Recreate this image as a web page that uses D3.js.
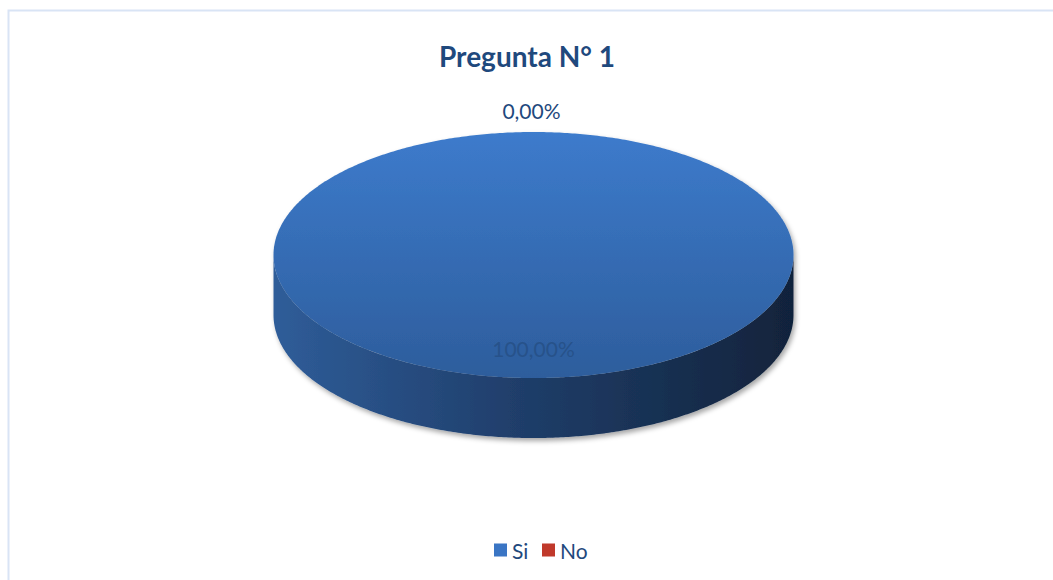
<!DOCTYPE html>
<html>
<head>
<meta charset="utf-8">
<script src="https://cdn.jsdelivr.net/npm/d3@7"></script>
<style>
	body { margin: 0; background: white; }
</style>
</head>
<body>
<div id="viz"></div>
<script>

// Chart data
var categories = ["Si", "No"];
var values = [100, 0];
var colors = ["#3a75c4", "#c0392b"];
var title = "Pregunta N° 1";

var width = 1053,
	height = 580;

// Pie geometry (3D ellipse)
var cx = 533.5,
	cy = 255,
	rx = 260,
	ry = 123,
	depth = 60;

var locale = d3.formatLocale({decimal: ",", thousands: ".", grouping: [3], currency: ["", "€"]}),
	fmt = locale.format(".2f"),
	total = d3.sum(values),
	pctText = v => fmt(v / total * 100) + "%";

var pie = d3.pie().sort(null).value(d => d.value);
var slices = pie(categories.map((c, i) => ({name: c, value: values[i], color: colors[i]})));

var px = a => cx + rx * Math.sin(a),
	py = a => cy - ry * Math.cos(a);

var svg = d3.select("#viz")
	.append("svg")
	.attr("width", width)
	.attr("height", height)
	.style("font-family", "Lato, 'Open Sans', sans-serif");

var defs = svg.append("defs");

var topGrad = defs.append("linearGradient")
	.attr("id", "topGrad")
	.attr("x1", 0).attr("y1", 0).attr("x2", 0).attr("y2", 1);
topGrad.append("stop").attr("offset", "0%").attr("stop-color", "#3d7bcc");
topGrad.append("stop").attr("offset", "100%").attr("stop-color", "#2d5d9c");

var sideGrad = defs.append("linearGradient")
	.attr("id", "sideGrad")
	.attr("gradientUnits", "userSpaceOnUse")
	.attr("x1", cx - rx).attr("y1", 0).attr("x2", cx + rx).attr("y2", 0);
sideGrad.append("stop").attr("offset", "0%").attr("stop-color", "#2f5d99");
sideGrad.append("stop").attr("offset", "45%").attr("stop-color", "#203f6c");
sideGrad.append("stop").attr("offset", "100%").attr("stop-color", "#11233b");

var shadow = defs.append("filter")
	.attr("id", "shadow")
	.attr("x", "-10%").attr("y", "-10%").attr("width", "120%").attr("height", "130%");
shadow.append("feDropShadow")
	.attr("dx", 2).attr("dy", 3).attr("stdDeviation", 2.5)
	.attr("flood-color", "#000").attr("flood-opacity", 0.35);

// Chart border
svg.append("rect")
	.attr("x", 8.5)
	.attr("y", 10.5)
	.attr("width", width)
	.attr("height", height)
	.style("fill", "none")
	.style("stroke", "#d9e4f5")
	.style("stroke-width", 2);

// Title
svg.append("text")
	.attr("x", 527)
	.attr("y", 67)
	.attr("text-anchor", "middle")
	.style("font-size", "28px")
	.style("font-weight", "bold")
	.style("fill", "#1f497d")
	.text(title);

var arcPoints = (a0, a1, dy) => {
	var n = Math.max(2, Math.ceil(Math.abs(a1 - a0) / 0.01)),
		pts = [];
	for (var k = 0; k <= n; k++) {
		var a = a0 + (a1 - a0) * k / n;
		pts.push([px(a), py(a) + dy]);
	}
	return pts;
};

var pieG = svg.append("g").attr("filter", "url(#shadow)");

// Side walls (front-facing part only)
slices.filter(d => d.value > 0).forEach(d => {
	var a0 = Math.max(d.startAngle, Math.PI / 2),
		a1 = Math.min(d.endAngle, Math.PI * 1.5);
	if (a1 <= a0) return;
	var pts = arcPoints(a0, a1, 0).concat(arcPoints(a1, a0, depth));
	pieG.append("path")
		.attr("d", d3.line()(pts) + "Z")
		.style("fill", d.data.name == "Si" ? "url(#sideGrad)" : d3.color(d.data.color).darker(1));
});

// Top faces
slices.filter(d => d.value > 0).forEach(d => {
	var full = d.endAngle - d.startAngle >= Math.PI * 2 - 1e-6;
	var pts = arcPoints(d.startAngle, d.endAngle, 0);
	if (!full) pts = [[cx, cy]].concat(pts);
	pieG.append("path")
		.attr("d", d3.line()(pts) + "Z")
		.style("fill", d.data.name == "Si" ? "url(#topGrad)" : d.data.color);
});

// Data labels
slices.forEach(d => {
	var mid = (d.startAngle + d.endAngle) / 2,
		inside = d.value > 0;
	var lx = inside ? cx + (px(mid) - cx) * 0.78 : px(mid) - 2,
		ly = inside ? cy + (py(mid) - cy) * 0.79 : py(mid) - 18;
	svg.append("text")
		.attr("x", lx)
		.attr("y", ly)
		.attr("text-anchor", "middle")
		.attr("dominant-baseline", "middle")
		.style("font-size", "21px")
		.style("fill", inside ? "#27528a" : "#1f497d")
		.text(pctText(d.value));
});

// Legend
var legendX = [494, 542];
var legend = svg.selectAll(".legend")
	.data(slices)
	.enter()
	.append("g")
	.attr("class", "legend")
	.attr("transform", (d, i) => `translate(${legendX[i]}, 550)`);

legend.append("rect")
	.attr("x", 0)
	.attr("y", -6.5)
	.attr("width", 13)
	.attr("height", 13)
	.style("fill", d => d.data.color);

legend.append("text")
	.attr("x", 18)
	.attr("y", 0)
	.attr("dominant-baseline", "central")
	.style("font-size", "21px")
	.style("fill", "#1f497d")
	.text(d => d.data.name);

</script>
</body>
</html>
